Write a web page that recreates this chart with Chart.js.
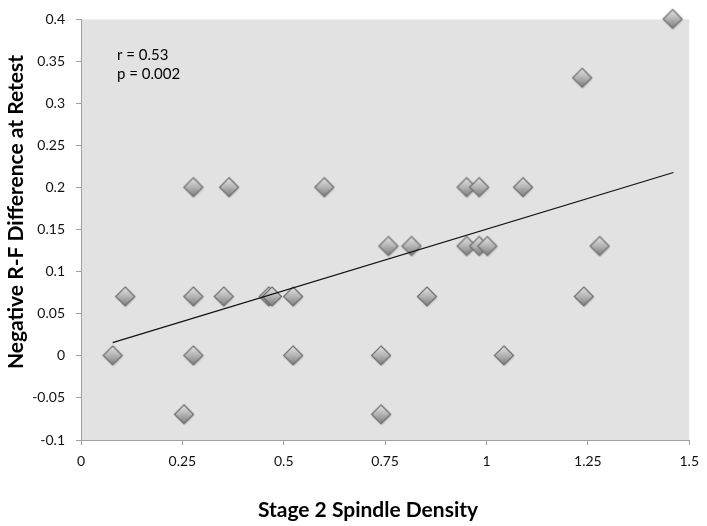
<!DOCTYPE html>
<html>
<head>
<meta charset="utf-8">
<script src="https://cdn.jsdelivr.net/npm/chart.js@4"></script>
<style>
  html, body { margin: 0; padding: 0; background: #fff; }
  #wrap { width: 707px; height: 526px; }
</style>
</head>
<body>
<div id="wrap"><canvas id="chart" width="707" height="526"></canvas></div>
<script>
// spindle density (x) vs negative R-F difference (y)
const densityValues = [0.078, 0.109, 0.254, 0.277, 0.277, 0.277, 0.352, 0.365, 0.463, 0.471,
  0.523, 0.523, 0.600, 0.740, 0.740, 0.758, 0.815, 0.853, 0.951, 0.982,
  0.951, 0.982, 1.002, 1.043, 1.090, 1.236, 1.240, 1.279, 1.459];
const differenceValues = [0, 0.07, -0.07, 0.2, 0.07, 0, 0.07, 0.2, 0.07, 0.07,
  0.07, 0, 0.2, 0, -0.07, 0.13, 0.13, 0.07, 0.2, 0.2,
  0.13, 0.13, 0.13, 0, 0.2, 0.33, 0.07, 0.13, 0.4];

// trend line end points
const trendX = [0.078, 1.461];
const trendY = [0.0157, 0.218];

const xTickLabels = ['0', '0.25', '0.5', '0.75', '1', '1.25', '1.5'];
const yTickLabels = ['-0.1', '-0.05', '0', '0.05', '0.1', '0.15', '0.2', '0.25', '0.3', '0.35', '0.4'];
const statsText = ['r = 0.53', 'p = 0.002'];

const FONT = 'Lato, "Open Sans", sans-serif';

// diamond marker with a soft gradient, like the Excel one
function makeDiamond() {
  const c = document.createElement('canvas');
  c.width = 26; c.height = 26;
  const g = c.getContext('2d');
  const cx = 13, cy = 12.5, r = 9.5;
  g.save();
  g.shadowColor = 'rgba(0,0,0,0.25)';
  g.shadowBlur = 2;
  g.shadowOffsetX = 0.5;
  g.shadowOffsetY = 1;
  g.beginPath();
  g.moveTo(cx, cy - r);
  g.lineTo(cx + r, cy);
  g.lineTo(cx, cy + r);
  g.lineTo(cx - r, cy);
  g.closePath();
  const grad = g.createLinearGradient(0, cy - r, 0, cy + r);
  grad.addColorStop(0, '#e4e4e4');
  grad.addColorStop(0.5, '#b4b4b4');
  grad.addColorStop(1, '#7c7c7c');
  g.fillStyle = grad;
  g.fill();
  g.restore();
  g.lineWidth = 1.2;
  g.strokeStyle = '#6e6e6e';
  g.stroke();
  return c;
}

const plotBackground = {
  id: 'plotBackground',
  beforeDraw(chart) {
    const a = chart.chartArea, ctx = chart.ctx;
    ctx.save();
    ctx.fillStyle = '#e2e2e2';
    ctx.fillRect(a.left, a.top, a.right - a.left, a.bottom - a.top);
    ctx.restore();
  },
  afterDraw(chart) {
    const a = chart.chartArea, ctx = chart.ctx;
    ctx.save();
    ctx.fillStyle = '#000';
    ctx.font = '15px ' + FONT;
    ctx.textBaseline = 'alphabetic';
    ctx.fillText(statsText[0], a.left + 36, 60);
    ctx.fillText(statsText[1], a.left + 36, 79);

    ctx.font = 'bold 21px ' + FONT;
    ctx.textAlign = 'center';
    ctx.fillText('Stage 2 Spindle Density', 368, 517);

    ctx.translate(23, 212);
    ctx.rotate(-Math.PI / 2);
    ctx.fillText('Negative R-F Difference at Retest', 0, 0);
    ctx.restore();
  }
};

const ctx = document.getElementById('chart').getContext('2d');
new Chart(ctx, {
  type: 'scatter',
  data: {
    datasets: [
      {
        type: 'line',
        label: 'Trend',
        data: trendX.map((x, i) => ({ x, y: trendY[i] })),
        borderColor: '#111',
        borderWidth: 1.3,
        pointRadius: 0,
        fill: false,
        order: 0
      },
      {
        label: 'Subjects',
        data: densityValues.map((x, i) => ({ x, y: differenceValues[i] })),
        pointStyle: makeDiamond(),
        pointRadius: 10,
        clip: false,
        order: 1
      }
    ]
  },
  options: {
    responsive: false,
    animation: false,
    layout: { padding: { left: 0, top: 15, right: 16, bottom: 0 } },
    plugins: {
      legend: { display: false },
      tooltip: { enabled: false }
    },
    scales: {
      x: {
        type: 'linear',
        min: 0, max: 1.5,
        afterFit: (s) => { s.height = 86; },
        afterBuildTicks: (s) => { s.ticks = xTickLabels.map(t => ({ value: parseFloat(t) })); },
        ticks: {
          callback: (v, i) => xTickLabels[i],
          color: '#111',
          font: { family: FONT, size: 14 },
          padding: 8,
          maxRotation: 0
        },
        grid: { drawOnChartArea: false, drawTicks: true, tickLength: 5, color: '#a0a0a0' },
        border: { display: true, color: '#a0a0a0', width: 1 }
      },
      y: {
        type: 'linear',
        min: -0.1, max: 0.4,
        afterFit: (s) => { s.width = 81; },
        afterBuildTicks: (s) => { s.ticks = yTickLabels.map(t => ({ value: parseFloat(t) })); },
        ticks: {
          callback: (v, i) => yTickLabels[i],
          color: '#111',
          font: { family: FONT, size: 14 },
          padding: 11
        },
        grid: { drawOnChartArea: false, drawTicks: true, tickLength: 5, color: '#a0a0a0' },
        border: { display: true, color: '#a0a0a0', width: 1 }
      }
    }
  },
  plugins: [plotBackground]
});
</script>
</body>
</html>
